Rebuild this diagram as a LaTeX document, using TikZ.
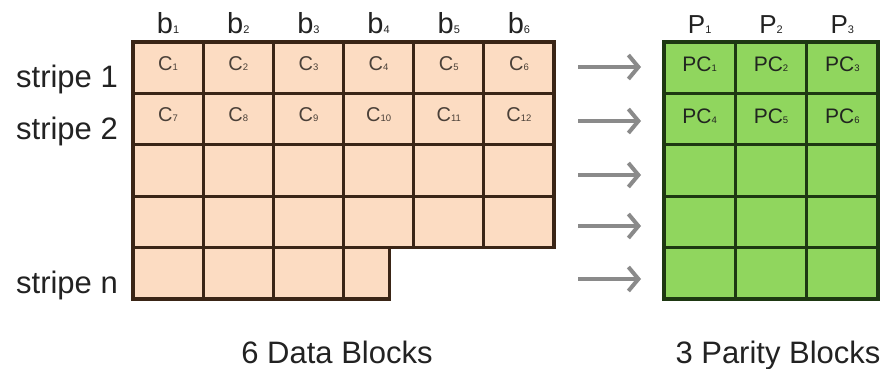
\documentclass[tikz,border=0pt]{standalone}
\usepackage{fontspec}
\setmainfont{Liberation Sans}
\usetikzlibrary{arrows.meta}

\definecolor{datafill}{HTML}{FCDCC2}
\definecolor{dataline}{HTML}{3A2516}
\definecolor{parfill}{HTML}{90D65E}
\definecolor{parline}{HTML}{1E3812}
\definecolor{flowgray}{HTML}{8A8A8A}
\definecolor{inkgray}{HTML}{222222}
\definecolor{cellink}{HTML}{4A4038}

% small index set on the baseline
\newcommand\idx[1]{{\fontsize{9.5}{9.5}\selectfont#1}}
\newcommand\hidx[1]{{\fontsize{11}{11}\selectfont#1}}

\tikzset{
  cellbase/.style={rectangle, inner sep=0pt, outer sep=0pt, line width=3.2pt,
                   minimum height=51.4pt},
  dcell/.style={cellbase, draw=dataline, fill=datafill, minimum width=70.17pt},
  pcell/.style={cellbase, draw=parline, fill=parfill, minimum width=71.33pt},
  ctext/.style={inner sep=0pt, text=cellink, font=\fontsize{20}{20}\selectfont},
  pctext/.style={inner sep=0pt, text=inkgray!85!parline, font=\fontsize{21}{21}\selectfont},
  collabel/.style={inner sep=0pt, anchor=base, text=inkgray, font=\fontsize{29}{29}\selectfont},
  plabel/.style={inner sep=0pt, anchor=base, text=inkgray, font=\fontsize{26}{26}\selectfont},
  rowlabel/.style={inner sep=0pt, anchor=base east, text=inkgray, font=\fontsize{31}{31}\selectfont},
  caption/.style={inner sep=0pt, anchor=base, text=inkgray, font=\fontsize{31}{31}\selectfont},
  flow/.style={draw=flowgray, line width=4pt,
               -{Straight Barb[length=10pt,width=24pt,line width=4pt]}},
}

\begin{document}
\begin{tikzpicture}[x=1pt,y=-1pt]
  \useasboundingbox (0,0) rectangle (886,369);

  % data blocks: four full stripes of six cells
  \foreach \r in {1,...,4}{
    \foreach \c in {1,...,6}{
      \node[dcell] (d\r\c) at ({133+70.17*(\c-0.5)},{42+51.4*(\r-0.5)}) {};
    }
  }
  % last, partly filled stripe
  \foreach \c in {1,2,3}{
    \node[dcell] (d5\c) at ({133+70.17*(\c-0.5)},{42+51.4*4.5}) {};
  }
  \node[dcell, minimum width=46pt] (d54) at ({133+70.17*3+23},{42+51.4*4.5}) {};

  % parity blocks
  \foreach \r in {1,...,5}{
    \foreach \c in {1,2,3}{
      \node[pcell] (p\r\c) at ({664+71.33*(\c-0.5)},{42+51.4*(\r-0.5)}) {};
    }
  }

  % chunk names
  \foreach \c in {1,...,6}{
    \node[ctext] at ([yshift=4pt]d1\c.center) {C\idx{\c}};
  }
  \foreach \c/\n in {1/7,2/8,3/9,4/10,5/11,6/12}{
    \node[ctext] at ([yshift=4pt]d2\c.center) {C\idx{\n}};
  }
  \foreach \c in {1,2,3}{
    \node[pctext] at ([yshift=3pt]p1\c.center) {PC\idx{\c}};
  }
  \foreach \c/\n in {1/4,2/5,3/6}{
    \node[pctext] at ([yshift=3pt]p2\c.center) {PC\idx{\n}};
  }

  % column headings
  \foreach \c in {1,...,6}{
    \node[collabel] (b\c) at ({133+70.17*(\c-0.5)},34) {b\hidx{\c}};
  }
  \foreach \c in {1,2,3}{
    \node[plabel] (hp\c) at ({664+71.33*(\c-0.5)},34) {P\hidx{\c}};
  }

  % stripe labels
  \node[rowlabel] (s1) at (118,87) {stripe 1};
  \node[rowlabel] (s2) at (118,139) {stripe 2};
  \node[rowlabel] (sn) at (118,293) {stripe n};

  % encoding arrows
  \foreach \r/\y in {1/67,2/121,3/175,4/226,5/279}{
    \coordinate (fa\r) at (578,\y);
    \coordinate (fb\r) at (641,\y);
    \draw[flow] (fa\r) -- (fb\r);
  }

  % captions
  \node[caption] (cap1) at (337,363) {6 Data Blocks};
  \node[caption] (cap2) at (778,363) {3 Parity Blocks};
\end{tikzpicture}
\end{document}
